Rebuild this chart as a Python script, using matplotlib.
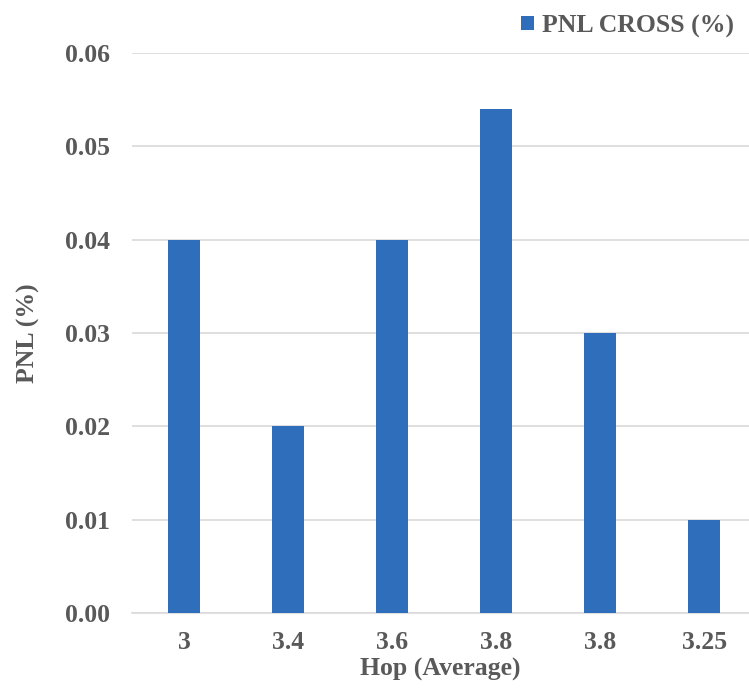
import matplotlib.pyplot as plt
import numpy as np

hops = ['3', '3.4', '3.6', '3.8', '3.8', '3.25']
pnl_cross = [0.04, 0.02, 0.04, 0.054, 0.03, 0.01]

plt.rcParams['font.family'] = ['Liberation Serif', 'DejaVu Serif']
plt.rcParams['font.weight'] = 'bold'

text_col = '#595959'
bar_col = '#2F6EBA'

fig = plt.figure(figsize=(7.49, 6.91), dpi=100)
ax = fig.add_axes([132 / 749, 78 / 691, 1 - 132 / 749, (613 - 53) / 691])

x = np.arange(len(hops))
ax.bar(x, pnl_cross, width=0.31, color=bar_col, label='PNL CROSS (%)', zorder=3)

ax.set_xlim(-0.5, 5.43)
ax.set_ylim(0, 0.06)
ax.set_yticks(np.arange(0, 0.061, 0.01))
ax.set_yticklabels([f'{v:.2f}' for v in np.arange(0, 0.061, 0.01)])
ax.set_xticks(x)
ax.set_xticklabels(hops)
ax.yaxis.grid(True, color='#D9D9D9', linewidth=1.2, zorder=0)
ax.tick_params(axis='both', length=0, labelsize=18.5, colors=text_col)
ax.tick_params(axis='x', pad=13)
ax.tick_params(axis='y', pad=16)
for s in ['top', 'right', 'left']:
    ax.spines[s].set_visible(False)
ax.spines['bottom'].set_color('#D9D9D9')
ax.spines['bottom'].set_linewidth(1.2)

ax.set_xlabel('Hop (Average)', fontsize=18.5, fontweight='bold', color=text_col, labelpad=3)
ax.set_ylabel('PNL (%)', fontsize=18.5, fontweight='bold', color=text_col, labelpad=18)

leg = ax.legend(loc='lower right', bbox_to_anchor=(1.0, 1.0), frameon=False,
                fontsize=18.5, handlelength=0.5, handleheight=0.5, handletextpad=0.3,
                borderaxespad=0.2)
for t in leg.get_texts():
    t.set_color(text_col)

plt.savefig('out.png', dpi=100)
plt.close()
